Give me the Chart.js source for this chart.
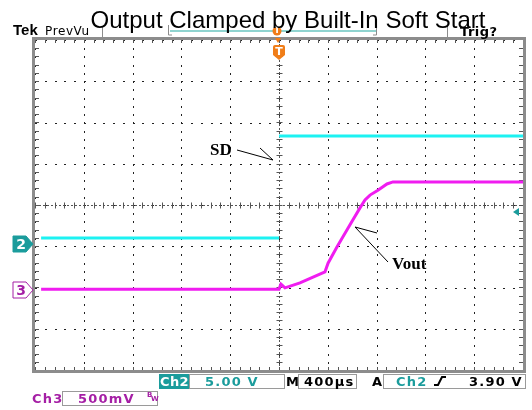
<!DOCTYPE html>
<html>
<head>
<meta charset="utf-8">
<script src="https://cdn.jsdelivr.net/npm/chart.js@4.4.0/dist/chart.umd.min.js"></script>
<style>
    html, body { margin: 0; padding: 0; background: #fff; }
    canvas { display: block; }
</style>
</head>
<body>
<canvas id="scope" width="532" height="410"></canvas>
<script>
// Time base: 400 us/div, trigger at centre (us)
const timeTicks = [-2000, -1600, -1200, -800, -400, 0, 400, 800, 1200, 1600, 2000];
const divTicks = [-4, -3, -2, -1, 0, 1, 2, 3, 4];

// Ch2 = SD (volts), 5 V/div
const ch2Time = [-1950, 0, 0, 2000];
const ch2Volts = [0.75, 0.75, 13.1, 13.1];

// Ch3 = Vout (volts), 500 mV/div
const ch3Time = [-1950, 0, 16, 49, 172, 279, 377, 402, 475, 582, 664, 705, 746, 811, 885, 934, 2000];
const ch3Volts = [0.01, 0.01, 0.07, 0.025, 0.085, 0.155, 0.22, 0.325, 0.52, 0.79, 0.995, 1.09, 1.15, 1.21, 1.285, 1.31, 1.31];

// channel settings (volts per division, ground marker in divisions)
const ch2Scale = 5, ch2Ground = -0.95;
const ch3Scale = 0.5, ch3Ground = -2.06;
const trigLevel = 3.9;

const teal = '#1b9c9c';
const magentaText = '#a51fa5';
const orange = '#f07d18';

function toPoints(times, volts, scale, ground) {
    return times.map((t, i) => ({ x: t, y: volts[i] / scale + ground }));
}

const ch2Points = toPoints(ch2Time, ch2Volts, ch2Scale, ch2Ground);
// edge is too fast to show on screen
ch2Points.splice(2, 0, { x: 0, y: null });
const ch3Points = toPoints(ch3Time, ch3Volts, ch3Scale, ch3Ground);

// graticule behind the traces
const graticule = {
    id: 'graticule',
    beforeDatasetsDraw(chart) {
        const ctx = chart.ctx;
        const xs = chart.scales.x, ys = chart.scales.y;
        const a = chart.chartArea;
        ctx.save();

        // dotted major lines
        ctx.fillStyle = '#222';
        timeTicks.forEach(t => {
            const px = Math.round(xs.getPixelForValue(t));
            for (let d = -4; d <= 4; d += 0.2) {
                ctx.fillRect(px, Math.round(ys.getPixelForValue(d)), 1, 2);
            }
        });
        divTicks.forEach(d => {
            const py = Math.round(ys.getPixelForValue(d));
            for (let t = -2000; t <= 2000; t += 80) {
                ctx.fillRect(Math.round(xs.getPixelForValue(t)), py, 2, 1);
            }
        });

        // centre cross
        const cx = Math.round(xs.getPixelForValue(0)) + 0.5;
        const cy = Math.round(ys.getPixelForValue(0)) + 0.5;
        ctx.strokeStyle = '#555';
        ctx.lineWidth = 1;
        ctx.setLineDash([2, 2]);
        ctx.beginPath();
        ctx.moveTo(a.left, cy); ctx.lineTo(a.right, cy);
        ctx.moveTo(cx, a.top); ctx.lineTo(cx, a.bottom);
        ctx.stroke();
        ctx.setLineDash([]);
        ctx.beginPath();
        for (let t = -2000; t <= 2000; t += 80) {
            const px = Math.round(xs.getPixelForValue(t)) + 0.5;
            ctx.moveTo(px, cy - 3); ctx.lineTo(px, cy + 3);
            ctx.moveTo(px, a.top); ctx.lineTo(px, a.top + 3);
            ctx.moveTo(px, a.bottom); ctx.lineTo(px, a.bottom - 3);
        }
        for (let d = -4; d <= 4; d += 0.2) {
            const py = Math.round(ys.getPixelForValue(d)) + 0.5;
            ctx.moveTo(cx - 3, py); ctx.lineTo(cx + 3, py);
            ctx.moveTo(a.left, py); ctx.lineTo(a.left + 4, py);
            ctx.moveTo(a.right, py); ctx.lineTo(a.right - 4, py);
        }
        ctx.stroke();

        // frame
        ctx.strokeStyle = '#8c8c8c';
        ctx.lineWidth = 3;
        ctx.strokeRect(a.left - 1.5, a.top - 1.5, a.right - a.left + 3, a.bottom - a.top + 3);
        ctx.restore();
    }
};

function tag(ctx, x, y, label, fill, stroke, textColor) {
    ctx.beginPath();
    ctx.moveTo(x - 20, y - 8);
    ctx.lineTo(x - 7, y - 8);
    ctx.lineTo(x, y);
    ctx.lineTo(x - 7, y + 8);
    ctx.lineTo(x - 20, y + 8);
    ctx.closePath();
    ctx.fillStyle = fill;
    ctx.fill();
    ctx.strokeStyle = stroke;
    ctx.lineWidth = 1;
    ctx.stroke();
    ctx.fillStyle = textColor;
    ctx.font = 'bold 14px "DejaVu Sans"';
    ctx.textAlign = 'center';
    ctx.textBaseline = 'middle';
    ctx.fillText(label, x - 12, y + 1);
}

function arrow(ctx, x1, y1, x2, y2, bx, by) {
    ctx.beginPath();
    ctx.moveTo(x1, y1); ctx.lineTo(x2, y2);
    ctx.moveTo(bx, by); ctx.lineTo(x2, y2);
    ctx.stroke();
}

// scope readouts, markers and labels
const overlay = {
    id: 'overlay',
    afterDraw(chart) {
        const ctx = chart.ctx;
        const xs = chart.scales.x, ys = chart.scales.y;
        const a = chart.chartArea;
        const tx = Math.round(xs.getPixelForValue(0));
        ctx.save();

        // channel ground markers
        tag(ctx, a.left - 2, Math.round(ys.getPixelForValue(ch2Ground)), '2', teal, teal, '#fff');
        tag(ctx, a.left - 2, Math.round(ys.getPixelForValue(ch3Ground)), '3', '#fff', magentaText, magentaText);

        // trigger level arrow
        const ly = Math.round(ys.getPixelForValue(trigLevel / ch2Scale + ch2Ground));
        ctx.fillStyle = teal;
        ctx.beginPath();
        ctx.moveTo(a.right - 10, ly);
        ctx.lineTo(a.right - 4, ly - 4);
        ctx.lineTo(a.right - 4, ly + 4);
        ctx.closePath();
        ctx.fill();

        // record view bar
        ctx.strokeStyle = '#8c8c8c';
        ctx.lineWidth = 1;
        ctx.beginPath();
        ctx.moveTo(102.5, 26); ctx.lineTo(102.5, 38);
        ctx.moveTo(447.5, 26); ctx.lineTo(447.5, 38);
        ctx.moveTo(168.5, 25); ctx.lineTo(168.5, 35); ctx.lineTo(172, 35);
        ctx.moveTo(376.5, 25); ctx.lineTo(376.5, 35); ctx.lineTo(373, 35);
        ctx.stroke();
        ctx.strokeStyle = '#8fd3cf';
        ctx.lineWidth = 2;
        ctx.beginPath();
        ctx.moveTo(170, 31); ctx.lineTo(376, 31);
        ctx.stroke();

        // trigger position markers
        ctx.fillStyle = orange;
        ctx.beginPath();
        ctx.arc(tx - 2, 31, 4.5, 0, Math.PI * 2);
        ctx.fill();
        ctx.beginPath();
        ctx.moveTo(tx - 4, 38); ctx.lineTo(tx + 2, 38); ctx.lineTo(tx - 1, 43);
        ctx.closePath();
        ctx.fill();
        ctx.beginPath();
        ctx.moveTo(tx - 6, 47);
        ctx.quadraticCurveTo(tx - 6, 45, tx - 4, 45);
        ctx.lineTo(tx + 4, 45);
        ctx.quadraticCurveTo(tx + 6, 45, tx + 6, 47);
        ctx.lineTo(tx + 6, 55);
        ctx.lineTo(tx, 60);
        ctx.lineTo(tx - 6, 55);
        ctx.closePath();
        ctx.fill();
        ctx.fillStyle = '#fff';
        ctx.font = 'bold 9px "DejaVu Sans"';
        ctx.textAlign = 'center';
        ctx.textBaseline = 'middle';
        ctx.fillText('T', tx - 2, 31);
        ctx.font = 'bold 11px "DejaVu Sans"';
        ctx.fillText('T', tx, 52);

        // header
        ctx.textAlign = 'left';
        ctx.textBaseline = 'alphabetic';
        ctx.fillStyle = '#000';
        ctx.font = 'bold 15px "Liberation Sans"';
        ctx.fillText('Tek', 13, 35);
        ctx.font = '12px "DejaVu Sans"';
        ctx.letterSpacing = '0.6px';
        ctx.fillText('PrevVu', 45, 35);
        ctx.font = 'bold 13px "DejaVu Sans"';
        ctx.letterSpacing = '0.5px';
        ctx.fillText('Trig?', 460, 36);

        // annotations
        ctx.letterSpacing = '0px';
        ctx.font = 'bold 17px "Liberation Serif"';
        ctx.fillText('SD', 210, 155);
        ctx.fillText('Vout', 392, 269);
        ctx.strokeStyle = '#000';
        ctx.lineWidth = 1;
        arrow(ctx, 237, 150, 273, 160, 260, 148);
        arrow(ctx, 388, 262, 355, 227, 377, 233);

        // status bar
        ctx.font = 'bold 13px "DejaVu Sans"';
        ctx.letterSpacing = '0.4px';
        ctx.fillStyle = teal;
        ctx.fillRect(159, 374, 30, 15);
        ctx.fillStyle = '#fff';
        ctx.fillText('Ch2', 160, 386);
        ctx.letterSpacing = '1.2px';
        ctx.strokeStyle = '#9a9a9a';
        ctx.lineWidth = 1;
        ctx.strokeRect(189.5, 374.5, 95, 14);
        ctx.strokeRect(298.5, 374.5, 58, 14);
        ctx.strokeRect(383.5, 374.5, 142, 14);
        ctx.strokeRect(62.5, 391.5, 95, 14);
        ctx.fillStyle = teal;
        ctx.fillText('5.00 V', 205, 386);
        ctx.fillText('Ch2', 396, 386);
        ctx.fillStyle = '#000';
        ctx.fillText('M', 286, 386);
        ctx.fillText('400µs', 304, 386);
        ctx.fillText('A', 372, 386);
        ctx.fillText('3.90 V', 469, 386);
        ctx.lineWidth = 2;
        ctx.strokeStyle = '#000';
        ctx.beginPath();
        ctx.moveTo(434, 385); ctx.lineTo(438, 385); ctx.lineTo(442, 377); ctx.lineTo(446, 377);
        ctx.stroke();
        ctx.fillStyle = magentaText;
        ctx.fillText('Ch3', 32, 403);
        ctx.fillText('500mV', 78, 403);
        ctx.letterSpacing = '0px';
        ctx.font = 'bold 7px "DejaVu Sans"';
        ctx.fillText('B', 147, 397);
        ctx.fillText('W', 151, 401);

        // title
        ctx.fillStyle = '#000';
        ctx.font = '24px "Liberation Sans"';
        ctx.textAlign = 'center';
        ctx.fillText('Output Clamped by Built-In Soft Start', 288, 28);
        ctx.restore();
    }
};

new Chart(document.getElementById('scope'), {
    type: 'line',
    data: {
        datasets: [
            {
                label: 'Ch2 SD',
                data: ch2Points,
                borderColor: '#1cf2f2',
                borderWidth: 3,
                pointRadius: 0,
                spanGaps: false
            },
            {
                label: 'Ch3 Vout',
                data: ch3Points,
                borderColor: '#f01cf0',
                borderWidth: 3,
                pointRadius: 0
            }
        ]
    },
    options: {
        responsive: false,
        animation: false,
        layout: { padding: { left: 35, right: 9, top: 40, bottom: 40 } },
        plugins: {
            legend: { display: false },
            title: { display: false },
            tooltip: { enabled: false }
        },
        scales: {
            x: { type: 'linear', min: -2000, max: 2000, display: false },
            y: { type: 'linear', min: -4, max: 4, display: false }
        }
    },
    plugins: [graticule, overlay]
});
</script>
</body>
</html>
